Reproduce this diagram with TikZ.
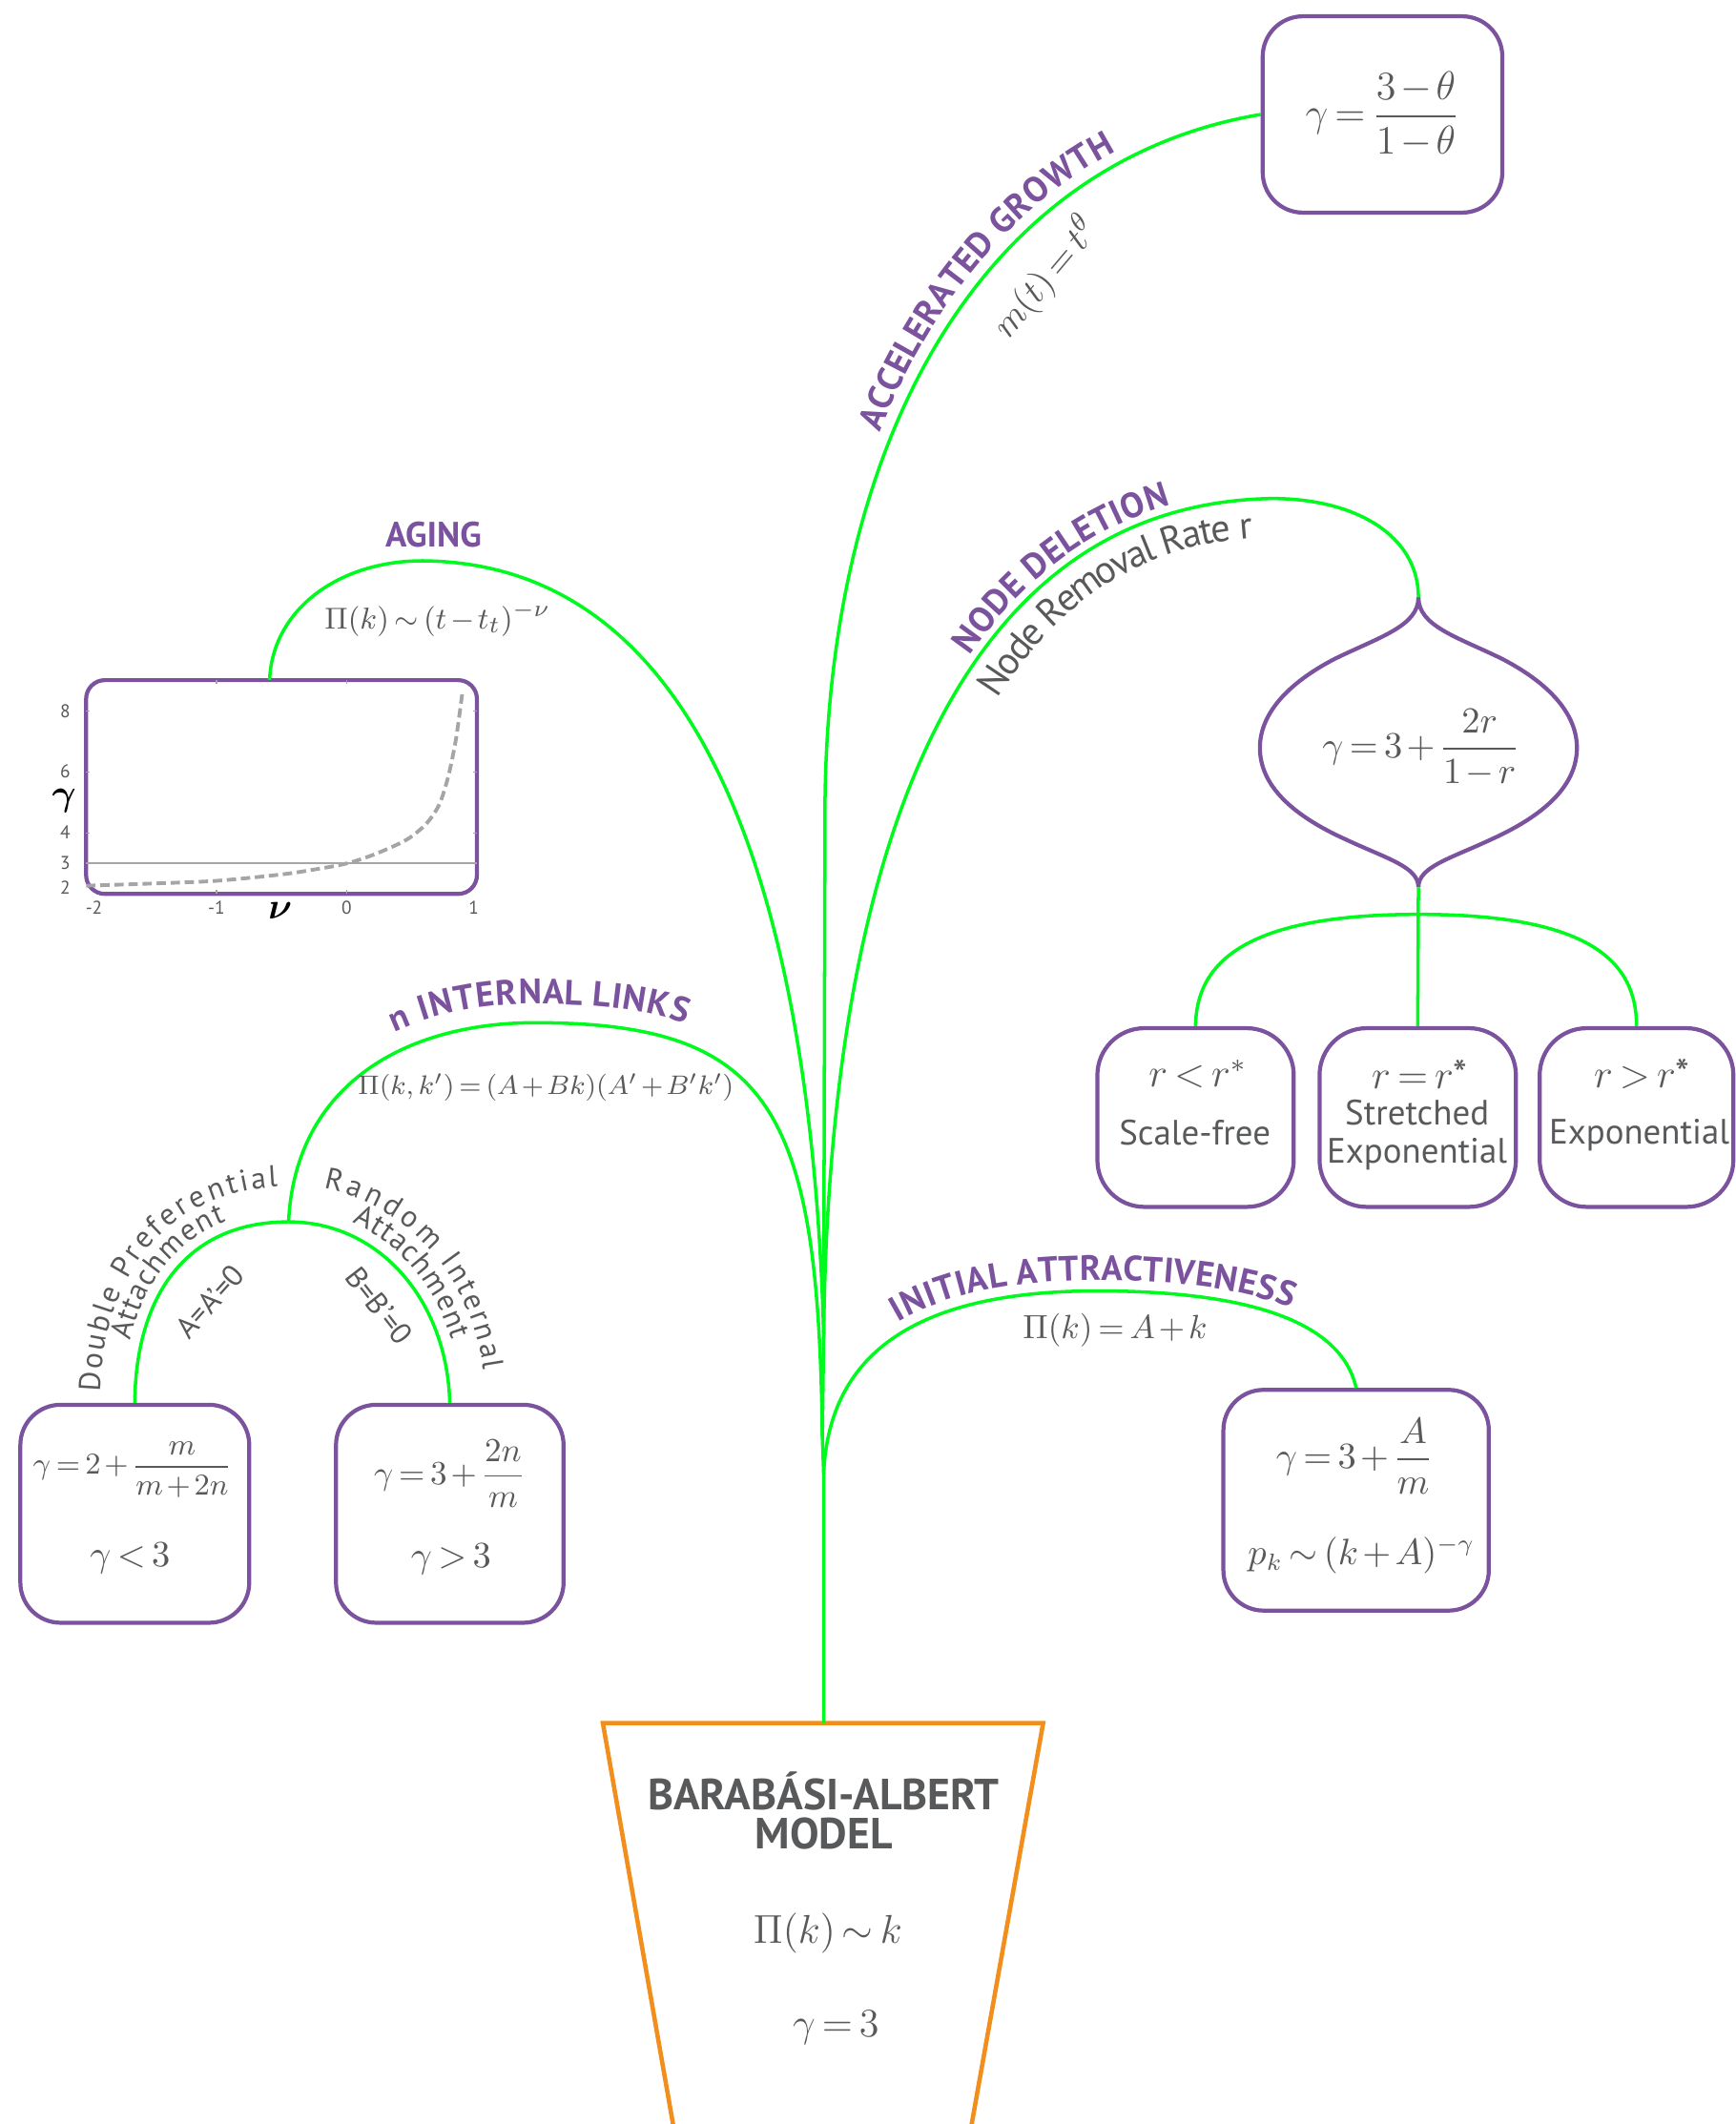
\documentclass[tikz,border=0pt]{standalone}
\usepackage{amsmath}
\usepackage{fontspec}
\setmainfont{PT Sans}
\usetikzlibrary{decorations.text}

\definecolor{labpurple}{RGB}{123,82,157}
\definecolor{leafgreen}{RGB}{0,250,30}
\definecolor{potorange}{RGB}{242,142,28}
\definecolor{textgray}{RGB}{88,89,91}
\definecolor{chartgray}{RGB}{165,165,165}

\thickmuskip=3mu plus 2mu
\medmuskip=2mu plus 1mu minus 1mu

\newcommand\labfont{\fontsize{10.5}{12}\selectfont\bfseries}
\newcommand\subfont{\fontsize{10.5}{11.5}\selectfont}
\newcommand\smallfont{\fontsize{9}{10}\selectfont}
\newcommand\eqsize[1]{\fontsize{#1}{#1}\selectfont}

\tikzset{
  branch/.style={draw=leafgreen, line width=1pt},
  result/.style 2 args={draw=labpurple, line width=1.2pt, rounded corners=12pt,
    inner sep=0pt, minimum width=#1, minimum height=#2, text=textgray},
  eq/.style={text=textgray, inner sep=1pt},
  sub/.style={text=textgray, font=\subfont, inner sep=1pt, align=center},
  lab/.style={text=labpurple, font=\labfont, inner sep=1pt},
  tick/.style={text=textgray, font={\fontsize{5.5}{6}\selectfont}, inner sep=0pt},
  labalong/.style n args={3}{postaction={decorate, decoration={text along path,
    text={|\labfont\color{labpurple}|#1}, raise=#2, text align={#3}}}},
  subalong/.style n args={4}{postaction={decorate, decoration={text along path,
    text={|\fontsize{#4}{#4}\selectfont\color{textgray}|#1}, raise=#2, text align={#3}}}},
}

\begin{document}
\begin{tikzpicture}[x=0.0142cm, y=-0.0142cm]
  \useasboundingbox (0,0) rectangle (1281,1568);

  % pot
  \draw[potorange, line width=1.3pt, line join=miter]
    (498,1575) -- (445,1272) -- (770,1272) -- (716,1575);
  \coordinate (pottop) at (608,1272);
  \node[text=textgray, font={\fontsize{13}{11.8}\selectfont\bfseries}, align=center]
    (batitle) at (608,1336.5) {BARABÁSI-ALBERT\\MODEL};
  \node[eq, font={\eqsize{12}}] (bapi) at (611,1427) {$\Pi(k)\sim k$};
  \node[eq, font={\eqsize{12}}] (bagamma) at (617,1497) {$\gamma=3$};

  % trunk
  \coordinate (forkinit) at (608,1088);
  \coordinate (forklinks) at (607,1060);
  \coordinate (forkmain) at (608,985);
  \draw[branch] (pottop) -- (forkinit) -- (forklinks) -- (forkmain);

  % result nodes
  \node[result={2.513cm}{2.059cm}, font={\eqsize{12}}] (accbox) at (1020.5,84.5)
    {$\gamma=\dfrac{3-\theta}{1-\theta}$};
  \node[result={4.098cm}{2.242cm}, rounded corners=5.6pt] (agechart) at (207.8,581) {};
  \coordinate (agetop) at (199,502);
  \node[inner sep=0pt, text=textgray, font={\eqsize{10.5}}] (delleaf) at (1049,552)
    {$\gamma=3+\dfrac{2r}{1-r}$};
  \coordinate (leaftop) at (1047,441);
  \coordinate (leafbot) at (1047,655);
  \coordinate (leafhub) at (1047,675);
  \node[result={2.059cm}{1.874cm}, rounded corners=14pt] (rless) at (882.5,825) {};
  \node[result={2.059cm}{1.874cm}, rounded corners=14pt] (requal) at (1046.5,825) {};
  \node[result={2.031cm}{1.874cm}, rounded corners=14pt] (rmore) at (1208,825) {};
  \coordinate (linksfork) at (213,902);
  \node[result={2.400cm}{2.286cm}] (dpabox) at (99.5,1117.5) {};
  \node[result={2.386cm}{2.286cm}] (ribox) at (332,1117.5) {};
  \node[result={2.783cm}{2.315cm}] (initbox) at (1001,1107.5) {};

  % leaf outline
  \draw[labpurple, line width=1.2pt] (leaftop)
    .. controls (1047,462) and (1075,470) .. (1108,486)
    .. controls (1145,505) and (1164,528) .. (1164,552)
    .. controls (1164,580) and (1140,602) .. (1100,620)
    .. controls (1070,634) and (1047,640) .. (leafbot)
    .. controls (1047,640) and (1024,634) .. (994,620)
    .. controls (954,602) and (930,580) .. (930,552)
    .. controls (930,528) and (949,505) .. (986,486)
    .. controls (1019,470) and (1047,462) .. cycle;

  % aging chart
  \begin{scope}[shift={(255.9,704.9)}, x=1.366cm, y=0.3195cm]
    \draw[chartgray, line width=0.5pt] (-2,3) -- (1,3);
    \foreach \v in {-1,0} {
      \draw[chartgray, line width=0.4pt] (\v,9.02) -- ++(0,-0.13);
      \draw[chartgray, line width=0.4pt] (\v,2) -- ++(0,0.13);
    }
    \foreach \g in {4,6,8} {
      \draw[chartgray, line width=0.4pt] (-2,\g) -- ++(0.03,0);
      \draw[chartgray, line width=0.4pt] (1,\g) -- ++(-0.03,0);
    }
    \draw[chartgray, line width=1.1pt, dash pattern=on 2.8pt off 1.4pt]
      plot[smooth] coordinates {(-2,2.27) (-1.5,2.34) (-1,2.43) (-0.5,2.64)
        (-0.25,2.8) (0,3) (0.22,3.31) (0.46,3.78) (0.61,4.3) (0.71,4.93)
        (0.78,5.86) (0.84,7.11) (0.89,8.68)};
    \foreach \g/\t [count=\i] in {8/8, 6.02/6, 4.01/4, 3/3, 2.22/2}
      \node[tick] (ytick\i) at (-2.16,\g) {\t};
    \foreach \v/\t [count=\i] in {-1.94/-2, -1/-1, 0/0, 0.976/1}
      \node[tick] (xtick\i) at (\v,1.54) {\t};
    \node[inner sep=0pt, font={\eqsize{11}}] (gammaaxis) at (-2.17,5.04) {$\boldsymbol{\gamma}$};
    \node[inner sep=0pt, font={\eqsize{11}}] (nuaxis) at (-0.51,1.44) {$\boldsymbol{\nu}$};
  \end{scope}

  % aging
  \draw[branch] (forkmain) .. controls (600,700) and (535,416) .. (312,414)
    .. controls (250,414) and (201,450) .. (agetop);
  \node[lab] (aginglab) at (320,395) {AGING};
  \node[eq, font={\eqsize{9.5}}] (agingeq) at (323,457) {$\Pi(k)\sim(t-t_t)^{-\nu}$};

  % accelerated growth
  \draw[branch, labalong={ACCELERATED GROWTH}{3.6pt}{left, left indent=270pt}]
    (forkmain) -- (609,590) .. controls (612,330) and (720,120) .. (accbox.west);
  \node[eq, font={\eqsize{10.95}}, rotate=50] (acclab) at (772,205) {$m(t)=t^{\theta}$};

  % node deletion
  \draw[branch, labalong={NODE DELETION}{2.4pt}{left, left indent=209pt},
    subalong={Node Removal Rate r}{-11.5pt}{left, left indent=203pt}{11.5}]
    (forkmain) .. controls (612,640) and (700,372) .. (939,368)
    .. controls (1000,368) and (1047,395) .. (leaftop);
  \draw[branch] (leafbot) -- (requal.north);
  \draw[branch] (leafhub) .. controls (920,675) and (883,710) .. (rless.north);
  \draw[branch] (leafhub) .. controls (1174,675) and (1208,710) .. (rmore.north);
  \node[eq, font={\eqsize{12}}] (rlesseq) at (884,793) {$r<r^{*}$};
  \node[sub] (rlesstxt) at (882,836) {Scale-free};
  \node[eq, font={\eqsize{12}}] (requaleq) at (1048,793) {$r=r\mbox{*}$};
  \node[sub] (requaltxt) at (1046,838) {Stretched\\Exponential};
  \node[eq, font={\eqsize{12}}] (rmoreeq) at (1212,793) {$r>r\mbox{*}$};
  \node[sub] (rmoretxt) at (1210,838) {Exponential};

  % n internal links
  \draw[branch, labalong={n INTERNAL LINKS}{5.6pt}{left, left indent=65pt}]
    (linksfork) .. controls (218,800) and (300,755) .. (395,755)
    .. controls (570,755) and (604,820) .. (forklinks);
  \node[eq, font={\eqsize{8.5}}] (linkseq) at (403,803) {$\Pi(k,k')=(A+Bk)(A'+B'k')$};
  \draw[branch, subalong={Attachment}{3.2pt}{center}{9},
    subalong={Double Preferential}{10.5pt}{center}{9}]
    (dpabox.north) .. controls (100,960) and (135,902) .. (linksfork);
  \draw[branch, subalong={Attachment}{3.6pt}{center}{9},
    subalong={Random Internal}{11pt}{center}{9}]
    (linksfork) .. controls (280,902) and (330,960) .. (ribox.north);
  \node[sub, font=\smallfont, rotate=48] (dpacond) at (155,961) {A=A'=0};
  \node[sub, font=\smallfont, rotate=-52] (ricond) at (280,964) {B=B'=0};
  \node[eq, font={\eqsize{9.5}}] (dpaeq) at (98,1085) {$\gamma=2+\dfrac{m}{m+2n}$};
  \node[eq, font={\eqsize{10.95}}] (dpaineq) at (96,1150) {$\gamma<3$};
  \node[eq, font={\eqsize{10}}] (rieq) at (332,1088) {$\gamma=3+\dfrac{2n}{m}$};
  \node[eq, font={\eqsize{10.95}}] (riineq) at (333,1151) {$\gamma>3$};

  % initial attractiveness
  \draw[branch, labalong={INITIAL ATTRACTIVENESS}{3.2pt}{left, left indent=51pt}]
    (forkinit) .. controls (612,990) and (690,953) .. (810,953)
    .. controls (920,953) and (990,975) .. (initbox.north);
  \node[eq, font={\eqsize{10}}] (initeq) at (823,982) {$\Pi(k)=A+k$};
  \node[eq, font={\eqsize{10.95}}] (initgamma) at (1000,1075) {$\gamma=3+\dfrac{A}{m}$};
  \node[eq, font={\eqsize{10.5}}] (initpk) at (1005,1148) {$p_k\sim(k+A)^{-\gamma}$};
\end{tikzpicture}
\end{document}
